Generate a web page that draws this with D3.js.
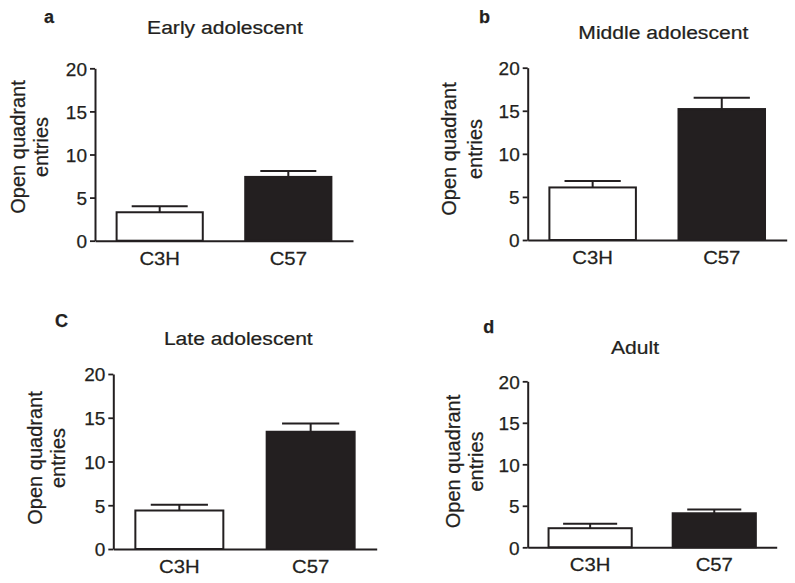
<!DOCTYPE html>
<html>
<head>
<meta charset="utf-8">
<script src="https://cdn.jsdelivr.net/npm/d3@7"></script>
<style>
  html, body { margin: 0; padding: 0; background: #fff; }
  svg text { font-family: "Liberation Sans", Arial, sans-serif; fill: #231f20; stroke: #231f20; stroke-width: 0.25px; }
</style>
</head>
<body>
<svg id="chart" width="795" height="583"></svg>
<script>
// ---- data ----
const categories = ["C3H", "C57"];
const panelLetters = ["a", "b", "C", "d"];
const panelTitles = ["Early adolescent", "Middle adolescent", "Late adolescent", "Adult"];
const yTicks = [0, 5, 10, 15, 20];
const yLabelLines = ["Open quadrant", "entries"];
const meansEarly = [3.3, 7.4];
const semEarly = [0.7, 0.7];
const meansMiddle = [6.1, 15.2];
const semMiddle = [0.75, 1.3];
const meansLate = [4.4, 13.4];
const semLate = [0.65, 0.95];
const meansAdult = [2.3, 4.1];
const semAdult = [0.55, 0.45];
const barFills = ["#ffffff", "#231f20"];

const allMeans = [meansEarly, meansMiddle, meansLate, meansAdult];
const allSem = [semEarly, semMiddle, semLate, semAdult];

// ---- layout (positions only) ----
const layouts = [
  {x0: 95, x1: 353, yTop: 68.3, yBot: 240.7, tx: 225, ty: 34.3, lx: 44, ly: 22.7, yl1: 25, yl2: 48, yc: 147},
  {x0: 527.7, x1: 786.7, yTop: 67.7, yBot: 240, tx: 663.3, ty: 39.3, lx: 479, ly: 23.3, yl1: 456, yl2: 481.7, yc: 149},
  {x0: 113.3, x1: 376.7, yTop: 374, yBot: 549, tx: 238.3, ty: 345, lx: 55, ly: 326.7, yl1: 41.7, yl2: 65, yc: 458},
  {x0: 527.7, x1: 776.7, yTop: 381.3, yBot: 547.3, tx: 635, ty: 354, lx: 483.3, ly: 333.3, yl1: 460, yl2: 483.3, yc: 461.5}
];

const ink = "#231f20";
const svg = d3.select("#chart");

layouts.forEach((L, i) => {
  const g = svg.append("g");
  const x = d3.scaleBand().domain(categories).range([L.x0, L.x1])
    .paddingInner(0.33).paddingOuter(0.168);
  const y = d3.scaleLinear().domain([0, 20]).range([L.yBot, L.yTop]);

  const data = categories.map((c, j) => ({cat: c, mean: allMeans[i][j], sem: allSem[i][j], fill: barFills[j]}));

  // bars
  g.selectAll("rect.bar").data(data).join("rect")
    .attr("class", "bar")
    .attr("x", d => x(d.cat))
    .attr("width", x.bandwidth())
    .attr("y", d => y(d.mean))
    .attr("height", d => y(0) - y(d.mean))
    .attr("fill", d => d.fill)
    .attr("stroke", ink)
    .attr("stroke-width", 2);

  // error bars (upper only)
  const cw = x.bandwidth() * 0.65;
  g.selectAll("line.err").data(data).join("line")
    .attr("class", "err")
    .attr("x1", d => x(d.cat) + x.bandwidth() / 2)
    .attr("x2", d => x(d.cat) + x.bandwidth() / 2)
    .attr("y1", d => y(d.mean))
    .attr("y2", d => y(d.mean + d.sem))
    .attr("stroke", ink).attr("stroke-width", 2);
  g.selectAll("line.cap").data(data).join("line")
    .attr("class", "cap")
    .attr("x1", d => x(d.cat) + x.bandwidth() / 2 - cw / 2)
    .attr("x2", d => x(d.cat) + x.bandwidth() / 2 + cw / 2)
    .attr("y1", d => y(d.mean + d.sem))
    .attr("y2", d => y(d.mean + d.sem))
    .attr("stroke", ink).attr("stroke-width", 2);

  // y axis
  const ya = g.append("g").attr("transform", `translate(${L.x0},0)`)
    .call(d3.axisLeft(y).tickValues(yTicks).tickSize(5).tickSizeOuter(0).tickPadding(3));
  ya.select(".domain").attr("stroke", ink).attr("stroke-width", 2);
  ya.selectAll(".tick line").attr("stroke", ink).attr("stroke-width", 1.8);
  ya.selectAll(".tick text").attr("font-size", 19).attr("font-family", null).attr("dy", "0.36em");

  // x axis
  const xa = g.append("g").attr("transform", `translate(0,${L.yBot})`)
    .call(d3.axisBottom(x).tickSize(0).tickSizeOuter(0).tickPadding(10));
  xa.select(".domain").attr("stroke", ink).attr("stroke-width", 2);
  xa.selectAll(".tick text").attr("font-size", 19).attr("font-family", null)
    .attr("dy", null).attr("y", 24).attr("transform", "scale(1.07,1)");

  // title
  g.append("text")
    .attr("transform", `translate(${L.tx},${L.ty}) scale(1.11,1)`)
    .attr("text-anchor", "middle").attr("font-size", 19)
    .text(panelTitles[i]);

  // panel letter
  g.append("text")
    .attr("x", L.lx).attr("y", L.ly)
    .attr("font-size", 18).attr("font-weight", "bold")
    .text(panelLetters[i]);

  // y label
  [L.yl1, L.yl2].forEach((bx, k) => {
    g.append("text")
      .attr("transform", `translate(${bx},${L.yc}) rotate(-90)`)
      .attr("text-anchor", "middle").attr("font-size", 20)
      .text(yLabelLines[k]);
  });
});
</script>
</body>
</html>
